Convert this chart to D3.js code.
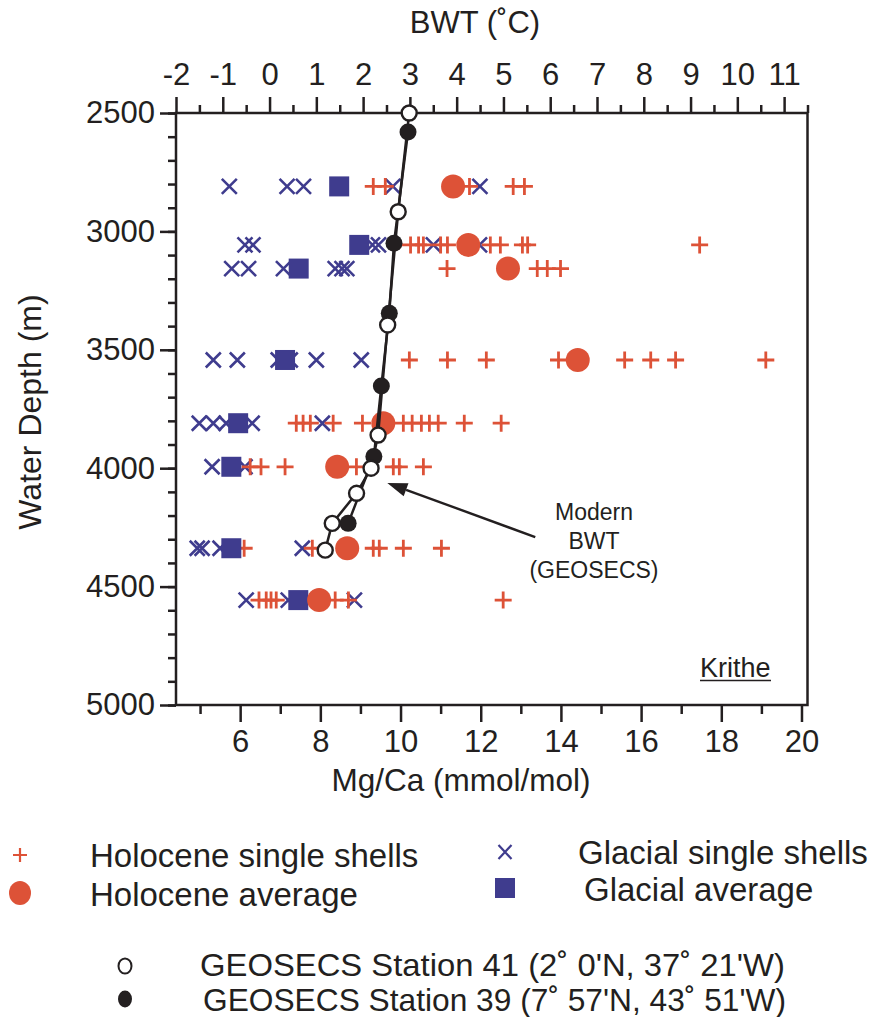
<!DOCTYPE html>
<html><head><meta charset="utf-8">
<script src="https://cdn.jsdelivr.net/npm/d3@7"></script>
<style>
body{margin:0;background:#fff;}
text{font-family:"Liberation Sans",Arial,Helvetica,sans-serif;fill:#231f20;}
</style>
</head><body><svg id="c" width="873" height="1017"></svg>
<script>
// ---- data ----
const depths = [2810, 3057, 3157, 3543, 3810, 3994, 4338, 4557];
const holoSingles = [
  [9.32, 9.62, 11.72, 12.81, 13.09],
  [10.25, 10.45, 10.57, 11.0, 11.17, 12.24, 12.49, 13.04, 13.17, 17.46],
  [11.16, 13.41, 13.66, 13.99],
  [10.22, 11.17, 12.14, 13.94, 15.59, 16.24, 16.86, 19.11],
  [7.40, 7.57, 7.75, 8.32, 9.05, 10.07, 10.29, 10.52, 10.72, 10.94, 11.59, 12.51],
  [6.25, 6.52, 7.12, 8.90, 9.82, 9.97, 10.57],
  [6.10, 7.80, 9.32, 9.47, 10.07, 11.02],
  [6.47, 6.65, 6.77, 6.90, 8.37, 8.70, 12.56]
];
const holoAvg = [11.31, 11.69, 12.68, 14.42, 9.57, 8.42, 8.67, 7.97];
const glacSingles = [
  [5.73, 7.17, 7.58, 9.81, 11.98],
  [6.12, 6.32, 9.30, 9.45, 10.82, 11.97],
  [5.79, 6.21, 7.08, 8.37, 8.54, 8.66],
  [5.33, 5.93, 6.95, 7.25, 7.90, 9.02],
  [4.98, 5.33, 5.65, 6.30, 8.05],
  [5.30, 6.12],
  [4.93, 5.05, 5.50, 7.55],
  [6.15, 7.20, 8.85]
];
const glacAvg = [8.47, 8.97, 7.46, 7.12, 5.95, 5.78, 5.78, 7.45];

const st41Depth = [2500, 2917, 3395, 3860, 4000, 4106, 4233, 4346];
const st41BWT   = [2.985, 2.75, 2.525, 2.32, 2.17, 1.86, 1.34, 1.19];
const st39Depth = [2580, 3050, 3346, 3653, 3951, 4233];
const st39BWT   = [2.96, 2.66, 2.56, 2.39, 2.23, 1.68];

const depthTicks = [2500, 3000, 3500, 4000, 4500, 5000];
const depthMinor = d3.range(2500, 5001, 100);
const mgTicks = [6, 8, 10, 12, 14, 16, 18, 20];
const mgMinor = [5, 7, 9, 11, 13, 15, 17, 19];
const bwtTicks = d3.range(-2, 12, 1);
const bwtMinor = d3.range(-1.5, 11.6, 1);

const RED = "#dd5237", BLUE = "#3f3c8e", INK = "#231f20";

// ---- scales ----
const L = 176, R = 807.5, T = 113, B = 705;
const x = d3.scaleLinear().domain([4.4, 20.15]).range([L, R]);
const xT = d3.scaleLinear().domain([-2, 11.5]).range([L, R]);
const y = d3.scaleLinear().domain([2500, 5000]).range([T, B]);

const svg = d3.select("#c");
svg.append("rect").attr("width", 873).attr("height", 1017).attr("fill", "#fff");

function styleAxis(g, fs) {
  g.select(".domain").remove();
  g.selectAll(".tick line").attr("stroke", INK).attr("stroke-width", 2.5);
  g.selectAll("text").attr("font-size", fs).attr("fill", INK)
    .style("font-family", '"Liberation Sans",Arial,sans-serif');
}
const plain = d => String(d);

// left axis
svg.append("g").attr("transform", `translate(${L},0)`)
  .call(d3.axisLeft(y).tickValues(depthMinor).tickSize(8).tickFormat(""))
  .call(g => styleAxis(g, 0));
svg.append("g").attr("transform", `translate(${L},0)`)
  .call(d3.axisLeft(y).tickValues(depthTicks).tickSize(16).tickPadding(5).tickFormat(plain))
  .call(g => styleAxis(g, 31));

// bottom axis
svg.append("g").attr("transform", `translate(0,${B})`)
  .call(d3.axisBottom(x).tickValues(mgMinor).tickSize(9).tickFormat(""))
  .call(g => styleAxis(g, 0));
svg.append("g").attr("transform", `translate(0,${B})`)
  .call(d3.axisBottom(x).tickValues(mgTicks).tickSize(17).tickPadding(8).tickFormat(plain))
  .call(g => styleAxis(g, 31));

// top axis
svg.append("g").attr("transform", `translate(0,${T})`)
  .call(d3.axisTop(xT).tickValues(bwtMinor).tickSize(8).tickFormat(""))
  .call(g => styleAxis(g, 0));
svg.append("g").attr("transform", `translate(0,${T})`)
  .call(d3.axisTop(xT).tickValues(bwtTicks).tickSize(16).tickPadding(12).tickFormat(plain))
  .call(g => styleAxis(g, 31));

// frame
svg.append("rect").attr("x", L).attr("y", T).attr("width", R - L).attr("height", B - T)
  .attr("fill", "none").attr("stroke", INK).attr("stroke-width", 2.5);

// axis titles
svg.append("text").attr("x", 475).attr("y", 33).attr("text-anchor", "middle")
  .attr("font-size", 31).text("BWT (˚C)");
svg.append("text").attr("x", 461).attr("y", 791).attr("text-anchor", "middle")
  .attr("font-size", 31.5).text("Mg/Ca (mmol/mol)");
svg.append("text").attr("transform", "translate(41,412) rotate(-90)").attr("text-anchor", "middle")
  .attr("font-size", 32).text("Water Depth (m)");

// ---- marks ----
const plusPath = "M-8.5,0H8.5M0,-8.5V8.5";
const crossPath = "M-7.5,-7.5L7.5,7.5M-7.5,7.5L7.5,-7.5";

const gSym = svg.append("g");
const glacPts = depths.flatMap((d, i) => glacSingles[i].map(v => ({d, v})));
const holoPts = depths.flatMap((d, i) => holoSingles[i].map(v => ({d, v})));

gSym.selectAll("path.gx").data(glacPts).join("path").attr("class", "gx")
  .attr("d", crossPath).attr("transform", p => `translate(${x(p.v)},${y(p.d)})`)
  .attr("stroke", BLUE).attr("stroke-width", 2.6).attr("fill", "none");
gSym.selectAll("path.hp").data(holoPts).join("path").attr("class", "hp")
  .attr("d", plusPath).attr("transform", p => `translate(${x(p.v)},${y(p.d)})`)
  .attr("stroke", RED).attr("stroke-width", 2.8).attr("fill", "none");
gSym.selectAll("rect.ga").data(depths).join("rect").attr("class", "ga")
  .attr("x", (d, i) => x(glacAvg[i]) - 10).attr("y", d => y(d) - 10)
  .attr("width", 20).attr("height", 20).attr("fill", BLUE);
gSym.selectAll("circle.ha").data(depths).join("circle").attr("class", "ha")
  .attr("cx", (d, i) => x(holoAvg[i])).attr("cy", d => y(d)).attr("r", 12).attr("fill", RED);

// GEOSECS lines
const line = d3.line().x(p => xT(p[1])).y(p => y(p[0]));
const s41 = st41Depth.map((d, i) => [d, st41BWT[i]]);
const s39 = st39Depth.map((d, i) => [d, st39BWT[i]]);
svg.append("path").attr("d", line(s41)).attr("fill", "none").attr("stroke", INK).attr("stroke-width", 2.5);
svg.append("path").attr("d", line(s39)).attr("fill", "none").attr("stroke", INK).attr("stroke-width", 2.5);
svg.selectAll("circle.s39").data(s39).join("circle").attr("class", "s39")
  .attr("cx", p => xT(p[1])).attr("cy", p => y(p[0])).attr("r", 8.5).attr("fill", INK);
svg.selectAll("circle.s41").data(s41).join("circle").attr("class", "s41")
  .attr("cx", p => xT(p[1])).attr("cy", p => y(p[0])).attr("r", 7.5)
  .attr("fill", "#fff").attr("stroke", INK).attr("stroke-width", 2.4);

// annotation arrow
const tip = [x(9.67), y(4062)], tail = [x(13.36), y(4291)];
const ang = Math.atan2(tail[1] - tip[1], tail[0] - tip[0]);
const ah = 20, aw = 7;
const bx = tip[0] + ah * Math.cos(ang), by = tip[1] + ah * Math.sin(ang);
svg.append("line").attr("x1", bx).attr("y1", by).attr("x2", tail[0]).attr("y2", tail[1])
  .attr("stroke", INK).attr("stroke-width", 2.4);
svg.append("path").attr("d",
  `M${tip[0]},${tip[1]}L${bx - aw * Math.sin(ang)},${by + aw * Math.cos(ang)}L${bx + aw * Math.sin(ang)},${by - aw * Math.cos(ang)}Z`)
  .attr("fill", INK);
const ann = svg.append("text").attr("text-anchor", "middle").attr("font-size", 23);
[["Modern", 520], ["BWT", 549], ["(GEOSECS)", 578]].forEach(([t, yy]) =>
  ann.append("tspan").attr("x", 594).attr("y", yy).text(t));

// Krithe
svg.append("text").attr("x", 700).attr("y", 677).attr("font-size", 27).text("Krithe");
svg.append("line").attr("x1", 700).attr("x2", 771).attr("y1", 680.5).attr("y2", 680.5)
  .attr("stroke", INK).attr("stroke-width", 1.5);

// ---- legend ----
const lg = svg.append("g");
lg.append("path").attr("d", "M-7,0H7M0,-7V7").attr("transform", "translate(20,855)")
  .attr("stroke", RED).attr("stroke-width", 2.2).attr("fill", "none");
lg.append("text").attr("x", 90).attr("y", 867).attr("font-size", 33).text("Holocene single shells");
lg.append("ellipse").attr("cx", 20).attr("cy", 893).attr("rx", 11).attr("ry", 12).attr("fill", RED);
lg.append("text").attr("x", 90).attr("y", 906).attr("font-size", 33).text("Holocene average");
lg.append("path").attr("d", "M-6.5,-7L6.5,7M-6.5,7L6.5,-7").attr("transform", "translate(505,852)")
  .attr("stroke", BLUE).attr("stroke-width", 2.2).attr("fill", "none");
lg.append("text").attr("x", 578).attr("y", 864).attr("font-size", 33).text("Glacial single shells");
lg.append("rect").attr("x", 495).attr("y", 878).attr("width", 20).attr("height", 20).attr("fill", BLUE);
lg.append("text").attr("x", 584).attr("y", 901).attr("font-size", 33).text("Glacial average");
lg.append("ellipse").attr("cx", 125).attr("cy", 966).attr("rx", 6.5).attr("ry", 7.5)
  .attr("fill", "#fff").attr("stroke", INK).attr("stroke-width", 2);
lg.append("text").attr("x", 200).attr("y", 976).attr("font-size", 30.5)
  .attr("textLength", 585).attr("lengthAdjust", "spacingAndGlyphs")
  .text("GEOSECS Station 41 (2˚ 0'N, 37˚ 21'W)");
lg.append("ellipse").attr("cx", 125).attr("cy", 999).attr("rx", 7).attr("ry", 8.5).attr("fill", INK);
lg.append("text").attr("x", 203).attr("y", 1011).attr("font-size", 30.5)
  .attr("textLength", 583).attr("lengthAdjust", "spacingAndGlyphs")
  .text("GEOSECS Station 39 (7˚ 57'N, 43˚ 51'W)");
</script>
</body></html>
